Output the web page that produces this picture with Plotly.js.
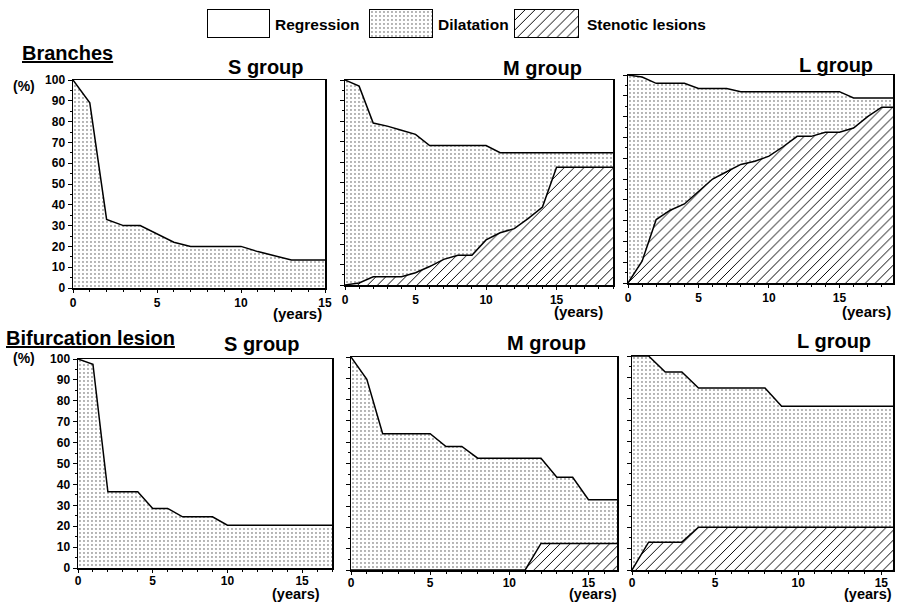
<!DOCTYPE html>
<html><head><meta charset="utf-8">
<script src="https://cdn.plot.ly/plotly-3.0.1.min.js"></script>
<style>html,body{margin:0;padding:0;background:#fff}#chart{width:898px;height:602px}</style>
</head><body><div id="chart"></div>
<script>
const W = 898, H = 602;

// ---- Data (percent of lesions) ----
// Branches
const brSYears = [0,1,2,3,4,5,6,7,8,9,10,11,12,13,14,15];
const brSDilatation = [100,89,33,30,30,26,22,20,20,20,20,17.5,15.5,13.5,13.5,13.5];

const brMYears = [0,1,2,3,4,5,6,7,8,9,10,11,12,13,14,15,16,17,18,19];
const brMDilatation = [100,97,79,77.5,75.5,73.5,68,68,68,68,68,64.5,64.5,64.5,64.5,64.5,64.5,64.5,64.5,64.5];
const brMStenotic = [0,1,4,4,4,6,9,12.5,14.5,14.5,22,25.5,27.5,32.5,38,57.5,57.5,57.5,57.5,57.5];

const brLYears = [0,1,2,3,4,5,6,7,8,9,10,11,12,13,14,15,16,17,18,19];
const brLDilatation = [100,99,96,96,96,93.5,93.5,93.5,92,92,92,92,92,92,92,92,89,89,89,89];
const brLStenotic = [0,10.5,30.5,35,38,44,50,53.5,57,58.5,61,65.5,70.5,70.5,72.5,72.5,74.5,80,84.5,84.5];

// Bifurcation lesion
const bfSYears = [0,1,2,3,4,5,6,7,8,9,10,11,12,13,14,15,16,17];
const bfSDilatation = [100,97.5,36.5,36.5,36.5,28.5,28.5,24.5,24.5,24.5,20.5,20.5,20.5,20.5,20.5,20.5,20.5,20.5];

const bfMYears = [0,1,2,3,4,5,6,7,8,9,10,11,12,13,14,15,16,17];
const bfMDilatation = [100,89.5,64,64,64,64,58,58,52.5,52.5,52.5,52.5,52.5,43.5,43.5,33,33,33];
const bfMStenotic = [0,0,0,0,0,0,0,0,0,0,0,0,12.5,12.5,12.5,12.5,12.5,12.5];

const bfLYears = [0,1,2,3,4,5,6,7,8,9,10,11,12,13,14,15,16];
const bfLDilatation = [100,100,92.5,92.5,85,85,85,85,85,76.5,76.5,76.5,76.5,76.5,76.5,76.5,76.5];
const bfLStenotic = [0,13,13,13,20,20,20,20,20,20,20,20,20,20,20,20,20];

const legendLabels = ['Regression','Dilatation','Stenotic lesions'];
const groupTitles = ['S group','M group','L group'];
const sectionTitles = ['Branches','Bifurcation lesion'];

// ---- Styling ----
const FONT = '"Liberation Sans", Arial, Helvetica, sans-serif';
const dotPattern = {shape:'.', size:4, solidity:0.1, fgcolor:'#444', bgcolor:'#fff'};
const hatchPattern = {shape:'/', size:7, solidity:0.14, fgcolor:'#000', bgcolor:'#fff'};

const panels = [
  {x:brSYears, dil:brSDilatation, sten:null, box:[73,325,80,288], xmax:15, ylab:true, bottom:false},
  {x:brMYears, dil:brMDilatation, sten:brMStenotic, box:[345,613,80,285], xmax:19, ylab:false, bottom:false},
  {x:brLYears, dil:brLDilatation, sten:brLStenotic, box:[628,893,75,283], xmax:18.8, ylab:false, bottom:false},
  {x:bfSYears, dil:bfSDilatation, sten:null, box:[78,332,359,568], xmax:17, ylab:true, bottom:true},
  {x:bfMYears, dil:bfMDilatation, sten:bfMStenotic, box:[351,617,357,570], xmax:16.8, ylab:false, bottom:true},
  {x:bfLYears, dil:bfLDilatation, sten:bfLStenotic, box:[632,893,356,570], xmax:15.7, ylab:false, bottom:true}
];

const px = v => v / W;
const py = v => 1 - v / H;

const data = [];
const layout = {
  width: W, height: H,
  margin: {l:0, r:0, t:0, b:0},
  paper_bgcolor: '#fff', plot_bgcolor: '#fff',
  showlegend: false,
  font: {family: FONT, color: '#000'},
  annotations: []
};

panels.forEach((p, i) => {
  const n = i + 1;
  const suf = n === 1 ? '' : String(n);
  const xa = 'x' + suf, ya = 'y' + suf;
  layout['xaxis' + suf] = {
    domain: [px(p.box[0]), px(p.box[1])], range: [0, p.xmax], anchor: ya,
    showline: true, mirror: true, linewidth: 1.5, linecolor: '#000',
    showgrid: false, zeroline: false,
    tickmode: 'linear', tick0: 0, dtick: 5,
    ticks: 'outside', ticklen: 3, tickwidth: 1, tickcolor: '#000',
    ticklabelstandoff: p.bottom ? -2 : 0,
    tickfont: {size: 12, weight: 'bold', family: FONT},
    minor: {tickmode:'linear', tick0:0, dtick: 1, ticks: 'outside', ticklen: 2, tickcolor: '#000', showgrid:false},
    fixedrange: true
  };
  layout['yaxis' + suf] = {
    domain: [py(p.box[3]), py(p.box[2])], range: [0, 100], anchor: xa,
    showline: true, mirror: true, linewidth: 1.5, linecolor: '#000',
    showgrid: false, zeroline: false,
    tickmode: 'linear', tick0: 0, dtick: 10,
    ticks: 'outside', ticklen: 4, tickwidth: 1, tickcolor: '#000',
    showticklabels: p.ylab,
    tickfont: {size: 12, weight: 'bold', family: FONT},
    minor: {tickmode:'linear', tick0:0, dtick: 5, ticks: 'outside', ticklen: 2, tickcolor: '#000', showgrid:false},
    fixedrange: true
  };
  data.push({
    type: 'scatter', mode: 'lines', x: p.x, y: p.dil, xaxis: xa, yaxis: ya,
    line: {color: '#000', width: 1.5}, fill: 'tozeroy', fillcolor: '#fff',
    fillpattern: dotPattern, hoverinfo: 'skip'
  });
  if (p.sten) {
    data.push({
      type: 'scatter', mode: 'lines', x: p.x, y: p.sten, xaxis: xa, yaxis: ya,
      line: {color: '#000', width: 1.5}, fill: 'tozeroy', fillcolor: '#fff',
      fillpattern: hatchPattern, hoverinfo: 'skip'
    });
  }
});

// ---- Legend swatches (separate tiny axes, unit box) ----
const swatches = [
  {box:[208,269,10,37], pattern:null},
  {box:[370,432,10,37], pattern:dotPattern},
  {box:[515,578,10,37], pattern:hatchPattern}
];
const legendTextX = [273, 436, 585];
swatches.forEach((s, j) => {
  const n = 7 + j, suf = String(n);
  layout['xaxis' + suf] = {domain:[px(s.box[0]), px(s.box[1])], range:[0,1], anchor:'y'+suf,
    showline:true, mirror:true, linewidth:1.2, linecolor:'#000', showgrid:false, zeroline:false,
    showticklabels:false, ticks:'', fixedrange:true};
  layout['yaxis' + suf] = {domain:[py(s.box[3]), py(s.box[2])], range:[0,1], anchor:'x'+suf,
    showline:true, mirror:true, linewidth:1.2, linecolor:'#000', showgrid:false, zeroline:false,
    showticklabels:false, ticks:'', fixedrange:true};
  const sw = {type:'scatter', mode:'lines', x:[0,1], y:[1,1], xaxis:'x'+suf, yaxis:'y'+suf,
    line:{width:0, color:'rgba(0,0,0,0)'}, fill:'tozeroy', fillcolor:'#fff', hoverinfo:'skip'};
  if (s.pattern) sw.fillpattern = s.pattern;
  data.push(sw);
  layout.annotations.push({xref:'paper', yref:'paper', x:px(legendTextX[j]), y:py(25), xanchor:'left', yanchor:'middle',
    text:'<b>' + legendLabels[j] + '</b>', showarrow:false, font:{family:FONT, size:15.5, color:'#000'}});
});

// ---- Text annotations ----
function ann(text, x, y, size, opts) {
  layout.annotations.push(Object.assign({xref:'paper', yref:'paper', x:px(x), y:py(y), xanchor:'center', yanchor:'middle',
    text:'<b>' + text + '</b>', showarrow:false, font:{family:FONT, size:size, color:'#000'}}, opts || {}));
}
// section titles
ann(sectionTitles[0], 20, 53, 20, {xanchor:'left', font:{family:FONT, size:20, color:'#000', lineposition:'under'}});
ann(sectionTitles[1], 4, 338, 20, {xanchor:'left', font:{family:FONT, size:20, color:'#000', lineposition:'under'}});
// group titles
ann(groupTitles[0], 266, 67, 20);
ann(groupTitles[1], 542, 68, 20);
ann(groupTitles[2], 836, 65, 20);
ann(groupTitles[0], 262, 344, 20);
ann(groupTitles[1], 546, 343, 20);
ann(groupTitles[2], 834, 341, 20);
// (%) labels
ann('(%)', 24, 86, 14);
ann('(%)', 24, 358, 14);
// (years) labels
const yearsPos = [[297,313],[578,311],[866,311],[296,594],[593,594],[868,594]];
yearsPos.forEach((q, k) => ann('(years)', q[0], q[1], k < 3 ? 15 : 14.5));

Plotly.newPlot('chart', data, layout, {displayModeBar:false, staticPlot:true});
</script></body></html>
